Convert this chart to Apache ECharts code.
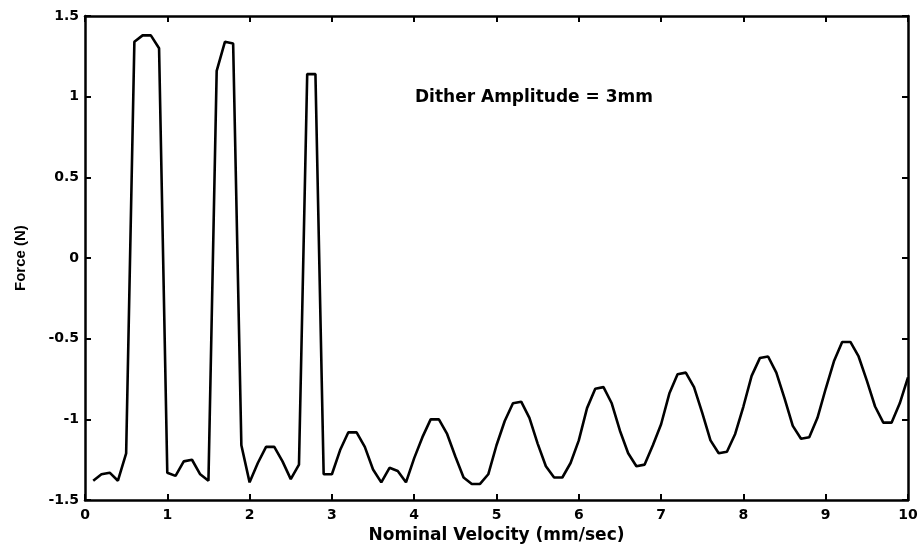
<!DOCTYPE html>
<html><head><meta charset="utf-8">
<script src="https://cdn.jsdelivr.net/npm/echarts@6/dist/echarts.min.js"></script>
<style>html,body{margin:0;padding:0;background:#fff}#c{width:923px;height:549px}</style>
</head><body><div id="c"></div>
<script>
const velocity = [0.1,0.2,0.3,0.4,0.5,0.6,0.7,0.8,0.9,1.0,1.1,1.2,1.3,1.4,1.5,1.6,1.7,1.8,1.9,2.0,
2.1,2.2,2.3,2.4,2.5,2.6,2.7,2.8,2.9,3.0,3.1,3.2,3.3,3.4,3.5,3.6,3.7,3.8,3.9,4.0,
4.1,4.2,4.3,4.4,4.5,4.6,4.7,4.8,4.9,5.0,5.1,5.2,5.3,5.4,5.5,5.6,5.7,5.8,5.9,6.0,
6.1,6.2,6.3,6.4,6.5,6.6,6.7,6.8,6.9,7.0,7.1,7.2,7.3,7.4,7.5,7.6,7.7,7.8,7.9,8.0,
8.1,8.2,8.3,8.4,8.5,8.6,8.7,8.8,8.9,9.0,9.1,9.2,9.3,9.4,9.5,9.6,9.7,9.8,9.9,10.0];
const force = [-1.38,-1.34,-1.33,-1.38,-1.21,1.34,1.38,1.38,1.30,-1.33,-1.35,-1.26,-1.25,-1.34,-1.38,1.16,1.34,1.33,-1.16,-1.39,
-1.27,-1.17,-1.17,-1.26,-1.37,-1.28,1.14,1.14,-1.34,-1.34,-1.19,-1.08,-1.08,-1.17,-1.31,-1.39,-1.30,-1.32,-1.39,-1.24,
-1.11,-1.00,-1.00,-1.09,-1.23,-1.36,-1.40,-1.40,-1.34,-1.16,-1.01,-0.90,-0.89,-0.99,-1.15,-1.29,-1.36,-1.36,-1.27,-1.13,
-0.93,-0.81,-0.80,-0.90,-1.07,-1.21,-1.29,-1.28,-1.16,-1.03,-0.84,-0.72,-0.71,-0.80,-0.96,-1.13,-1.21,-1.20,-1.09,-0.92,
-0.73,-0.62,-0.61,-0.71,-0.87,-1.04,-1.12,-1.11,-0.99,-0.81,-0.64,-0.52,-0.52,-0.61,-0.76,-0.92,-1.02,-1.02,-0.90,-0.74];
const yTickLabels = {"1.5":"1.5","1":"1","0.5":"0.5","0":"0","-0.5":"-0.5","-1":"-1","-1.5":"-1.5"};
const annotation = "Dither Amplitude = 3mm";

const FONT = "'DejaVu Sans', sans-serif";
const FONT2 = "'Liberation Sans', Arial, sans-serif";
const chart = echarts.init(document.getElementById('c'));
const axisLine = {show:true, onZero:false, lineStyle:{color:'#000', width:2.5}};
const tick = {show:true, inside:true, length:6, lineStyle:{color:'#000', width:2}};
chart.setOption({
  animation:false,
  backgroundColor:'#fff',
  grid:{left:85, right:15, top:16, bottom:48, containLabel:false},
  xAxis:[{
    type:'value', min:0, max:10, interval:1,
    axisLine, axisTick:tick, splitLine:{show:false},
    axisLabel:{color:'#000', fontFamily:FONT, fontWeight:'bold', fontSize:14, margin:8},
    name:'Nominal Velocity (mm/sec)', nameLocation:'middle', nameGap:24,
    nameTextStyle:{color:'#000', fontFamily:FONT, fontWeight:'bold', fontSize:17}
  },{
    type:'value', min:0, max:10, interval:1, position:'top',
    axisLine, axisTick:tick, axisLabel:{show:false}, splitLine:{show:false}
  }],
  yAxis:[{
    type:'value', min:-1.5, max:1.5, interval:0.5,
    axisLine, axisTick:tick, splitLine:{show:false},
    axisLabel:{color:'#000', fontFamily:FONT, fontWeight:'bold', fontSize:14, margin:6,
      formatter:v=>yTickLabels[String(v)] ?? String(v)},
    name:'Force (N)', nameLocation:'middle', nameGap:57, nameRotate:90,
    nameTextStyle:{color:'#000', fontFamily:FONT2, fontWeight:'bold', fontSize:15}
  },{
    type:'value', min:-1.5, max:1.5, interval:0.5, position:'right',
    axisLine, axisTick:tick, axisLabel:{show:false}, splitLine:{show:false}
  }],
  graphic:[{type:'text', left:415, top:89,
    style:{text:annotation, fill:'#000', font:'bold 17px '+FONT}}],
  series:[{
    type:'line', showSymbol:false, symbol:'none',
    data: velocity.map((v,i)=>[v, force[i]]),
    lineStyle:{color:'#000', width:2.6}
  }]
});
</script></body></html>
